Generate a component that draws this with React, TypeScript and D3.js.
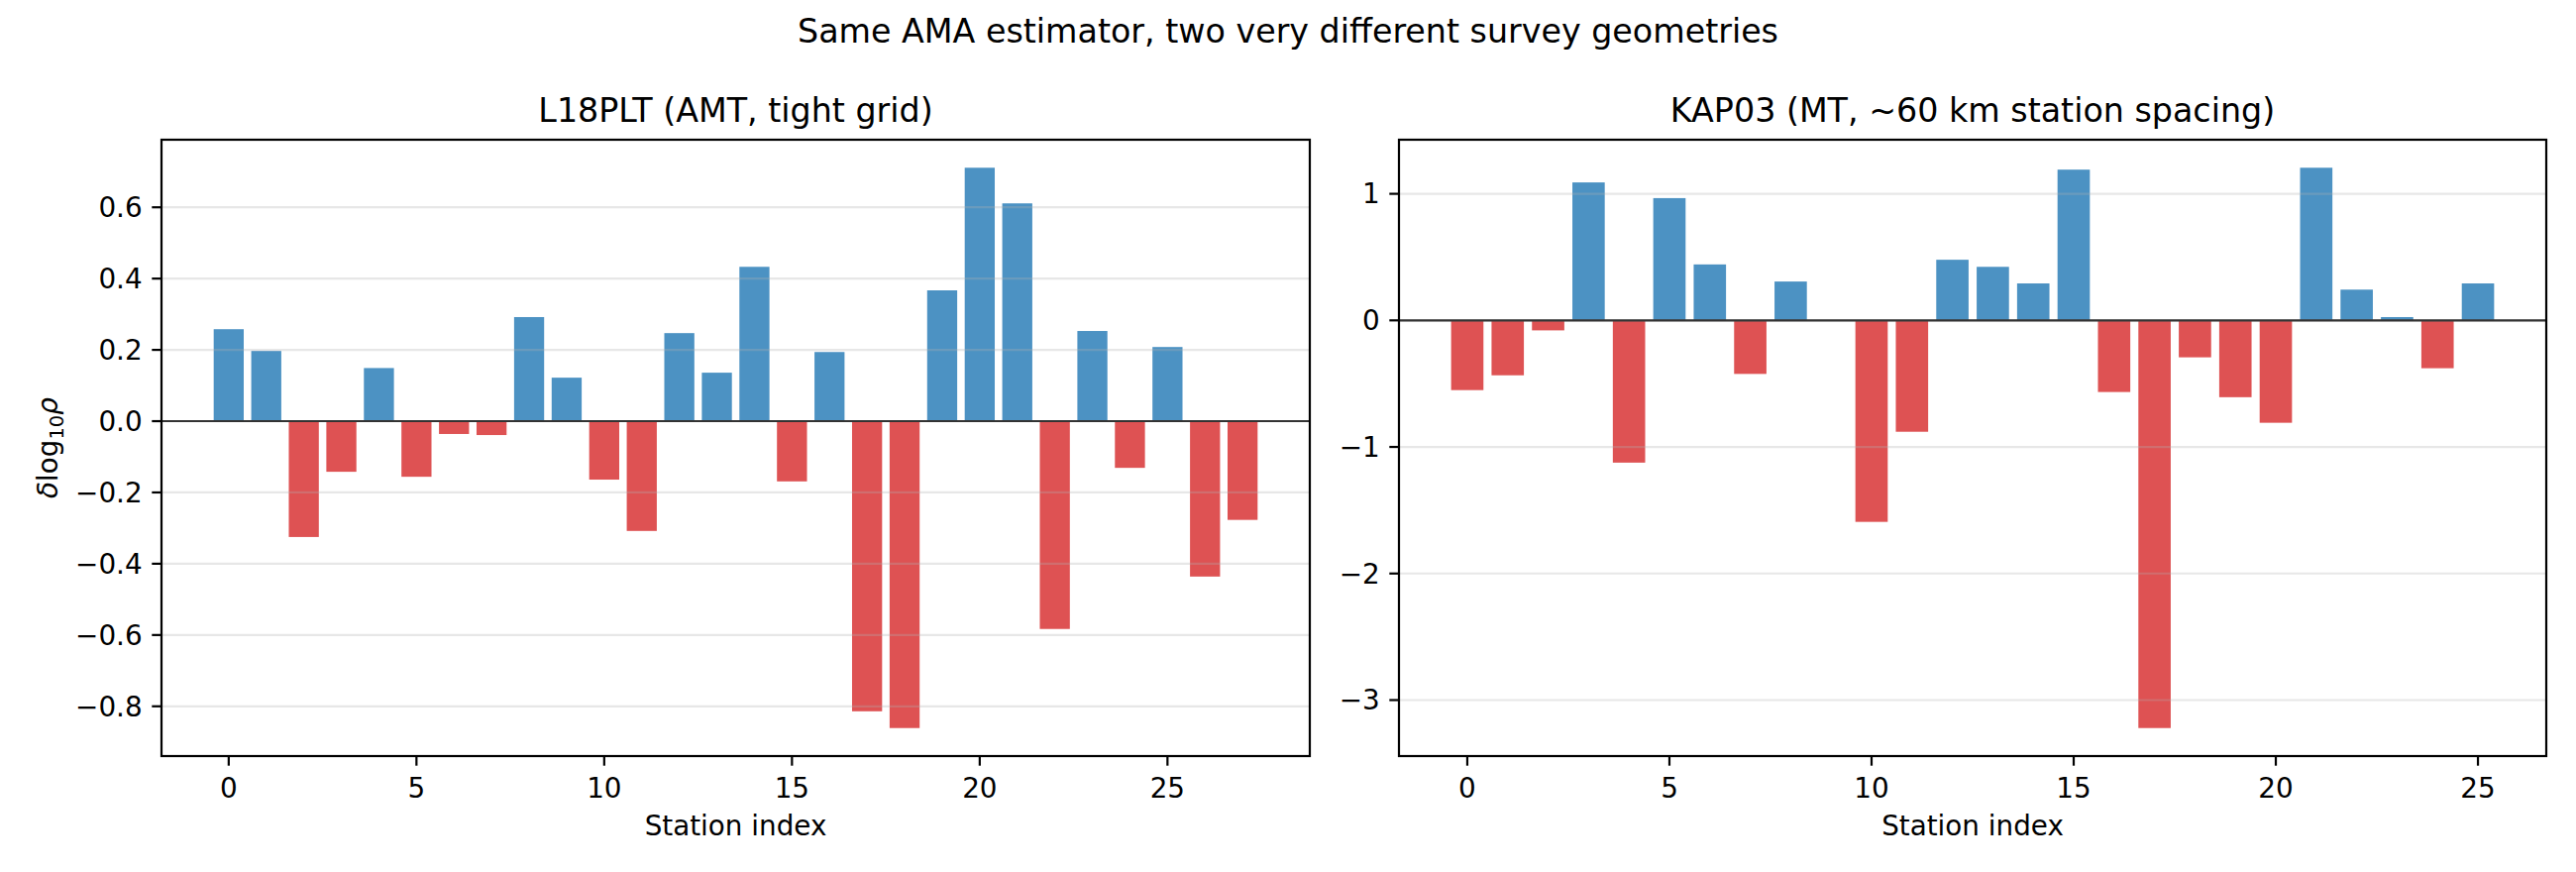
import React, { useEffect, useRef } from "react";
import * as d3 from "d3";

// station residuals
const l18Stations = d3.range(28);
const l18Values = [
  0.258, 0.197, -0.325, -0.142, 0.149, -0.156, -0.036, -0.039, 0.292, 0.122,
  -0.164, -0.308, 0.247, 0.136, 0.433, -0.169, 0.194, -0.814, -0.861, 0.367,
  0.711, 0.611, -0.583, 0.253, -0.131, 0.208, -0.436, -0.277,
];
const kap03Stations = d3.range(26);
const kap03Values = [
  -0.551, -0.434, -0.079, 1.09, -1.124, 0.966, 0.442, -0.423, 0.307, 0,
  -1.592, -0.88, 0.479, 0.423, 0.292, 1.191, -0.566, -3.221, -0.292, -0.607,
  -0.809, 1.206, 0.243, 0.026, -0.378, 0.292,
];

const xTicks = [0, 5, 10, 15, 20, 25];
const l18YTicks = [-0.8, -0.6, -0.4, -0.2, 0.0, 0.2, 0.4, 0.6];
const kap03YTicks = [-3, -2, -1, 0, 1];

const suptitle = "Same AMA estimator, two very different survey geometries";
const l18Title = "L18PLT (AMT, tight grid)";
const kap03Title = "KAP03 (MT, ~60 km station spacing)";
const xLabel = "Station index";

const W = 2600;
const H = 880;
const FONT = "'DejaVu Sans', sans-serif";
const BLUE = "#4c92c3";
const RED = "#de5253";
const LW = 2.2;

interface PanelSpec {
  x0: number;
  x1: number;
  stations: number[];
  values: number[];
  yTicks: number[];
  fmt: (v: number) => string;
  title: string;
  yLabel: boolean;
}

const minus = (s: string) => s.replace("-", "\u2212");

const App: React.FC = () => {
  const svgRef = useRef<SVGSVGElement | null>(null);

  useEffect(() => {
    if (!svgRef.current) return;
    const svg = d3.select(svgRef.current);
    svg.selectAll("*").remove();

    svg.append("rect").attr("width", W).attr("height", H).attr("fill", "#fff");

    svg.append("text")
      .attr("x", W / 2)
      .attr("y", 43)
      .attr("text-anchor", "middle")
      .attr("font-family", FONT)
      .attr("font-size", 33.3)
      .text(suptitle);

    const top = 141;
    const bottom = 763;

    const panels: PanelSpec[] = [
      {
        x0: 163, x1: 1322, stations: l18Stations, values: l18Values,
        yTicks: l18YTicks, fmt: v => minus(d3.format(".1f")(v)), title: l18Title, yLabel: true,
      },
      {
        x0: 1412, x1: 2570, stations: kap03Stations, values: kap03Values,
        yTicks: kap03YTicks, fmt: v => minus(d3.format("d")(v)), title: kap03Title, yLabel: false,
      },
    ];

    panels.forEach(p => {
      const barW = 0.8;
      const xMin = d3.min(p.stations)! - barW / 2;
      const xMax = d3.max(p.stations)! + barW / 2;
      const xPad = (xMax - xMin) * 0.05;
      const x = d3.scaleLinear().domain([xMin - xPad, xMax + xPad]).range([p.x0, p.x1]);

      const yMin = Math.min(0, d3.min(p.values)!);
      const yMax = Math.max(0, d3.max(p.values)!);
      const yPad = (yMax - yMin) * 0.05;
      const y = d3.scaleLinear().domain([yMin - yPad, yMax + yPad]).range([bottom, top]);

      const g = svg.append("g");

      // bars
      g.selectAll("rect.bar")
        .data(p.values.map((v, i) => ({ s: p.stations[i], v })))
        .enter()
        .append("rect")
        .attr("class", "bar")
        .attr("x", d => x(d.s - barW / 2))
        .attr("width", d => x(d.s + barW / 2) - x(d.s - barW / 2))
        .attr("y", d => y(Math.max(0, d.v)))
        .attr("height", d => Math.abs(y(d.v) - y(0)))
        .attr("fill", d => (d.v >= 0 ? BLUE : RED));

      // y grid above bars
      g.selectAll("line.grid")
        .data(p.yTicks)
        .enter()
        .append("line")
        .attr("x1", p.x0)
        .attr("x2", p.x1)
        .attr("y1", d => y(d))
        .attr("y2", d => y(d))
        .attr("stroke", "#b0b0b0")
        .attr("stroke-opacity", 0.3)
        .attr("stroke-width", LW);

      // zero line
      g.append("line")
        .attr("x1", p.x0)
        .attr("x2", p.x1)
        .attr("y1", y(0))
        .attr("y2", y(0))
        .attr("stroke", "#333")
        .attr("stroke-width", LW);

      // spines
      g.append("rect")
        .attr("x", p.x0)
        .attr("y", top)
        .attr("width", p.x1 - p.x0)
        .attr("height", bottom - top)
        .attr("fill", "none")
        .attr("stroke", "#000")
        .attr("stroke-width", LW);

      // x ticks
      const xt = g.selectAll("g.xt").data(xTicks).enter().append("g")
        .attr("transform", d => `translate(${x(d)},${bottom})`);
      xt.append("line").attr("y2", 9.7).attr("stroke", "#000").attr("stroke-width", LW);
      xt.append("text")
        .attr("y", 42)
        .attr("text-anchor", "middle")
        .attr("font-family", FONT)
        .attr("font-size", 27.8)
        .text(d => String(d));

      // y ticks
      const yt = g.selectAll("g.yt").data(p.yTicks).enter().append("g")
        .attr("transform", d => `translate(${p.x0},${y(d)})`);
      yt.append("line").attr("x2", -9.7).attr("stroke", "#000").attr("stroke-width", LW);
      yt.append("text")
        .attr("x", -19.4)
        .attr("dy", "0.35em")
        .attr("text-anchor", "end")
        .attr("font-family", FONT)
        .attr("font-size", 27.8)
        .text(d => p.fmt(d));

      // title
      g.append("text")
        .attr("x", (p.x0 + p.x1) / 2)
        .attr("y", 123)
        .attr("text-anchor", "middle")
        .attr("font-family", FONT)
        .attr("font-size", 33.3)
        .text(p.title);

      // x label
      g.append("text")
        .attr("x", (p.x0 + p.x1) / 2)
        .attr("y", 843)
        .attr("text-anchor", "middle")
        .attr("font-family", FONT)
        .attr("font-size", 27.8)
        .text(xLabel);

      if (p.yLabel) {
        const t = g.append("text")
          .attr("transform", `translate(58,${(top + bottom) / 2}) rotate(-90)`)
          .attr("text-anchor", "middle")
          .attr("font-family", FONT)
          .attr("font-size", 27.8);
        t.append("tspan").attr("font-style", "italic").text("\u03b4");
        t.append("tspan").text("log");
        t.append("tspan").attr("font-size", 19.5).attr("dy", 6).text("10");
        t.append("tspan").attr("font-style", "italic").attr("dy", -6).text("\u03c1");
      }
    });
  }, []);

  return (
    <div style={{ position: "absolute", left: 0, top: 0 }}>
      <svg ref={svgRef} width={W} height={H} style={{ display: "block" }} />
    </div>
  );
};

export default App;
